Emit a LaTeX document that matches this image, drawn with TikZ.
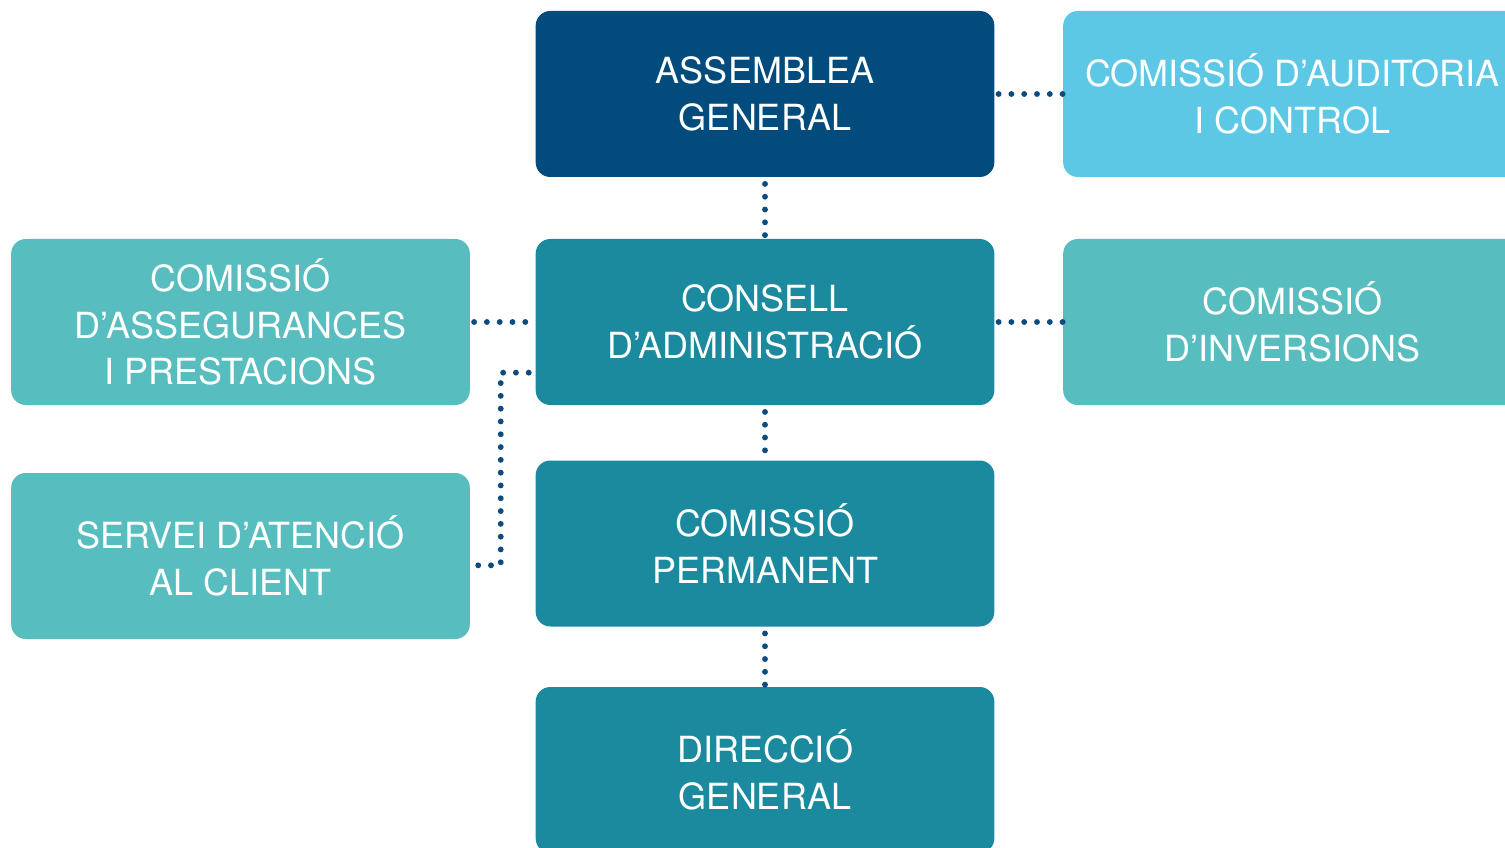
\documentclass[tikz,border=0pt]{standalone}
\usepackage{fontspec}
\setmainfont{TeX Gyre Heros}
\begin{document}
\begin{tikzpicture}[x=0.75pt,y=-0.75pt,
  box/.style={rounded corners=11pt, minimum width=344pt, minimum height=124.5pt,
    inner sep=0pt, align=center, text=white, font=\fontsize{27}{35}\selectfont},
  dots/.style={draw=dotblue, line width=4.4pt, line cap=round, dash pattern=on 0pt off 9.6pt}]
\definecolor{darkblue}{HTML}{014C7D}
\definecolor{skyblue}{HTML}{5CC8E6}
\definecolor{teal}{HTML}{1B8A9F}
\definecolor{aqua}{HTML}{57BDBF}
\definecolor{dotblue}{HTML}{0B4B7E}
\path[use as bounding box, clip] (0,0) rectangle (1505,848);

\node[box, fill=darkblue] (asm)  at (765,94)    {ASSEMBLEA\\GENERAL};
\node[box, fill=skyblue]  (aud)  at (1292.5,94) {COMISSIÓ D’AUDITORIA\\I CONTROL};
\node[box, fill=teal]     (cons) at (765,322)   {CONSELL\\D’ADMINISTRACIÓ};
\node[box, fill=aqua]     (ass)  at (240.5,322) {COMISSIÓ\\D’ASSEGURANCES\\I PRESTACIONS};
\node[box, fill=aqua]     (inv)  at (1292.5,322){COMISSIÓ\\D’INVERSIONS};
\node[box, fill=aqua]     (serv) at (240.5,556) {SERVEI D’ATENCIÓ\\AL CLIENT};
\node[box, fill=teal]     (perm) at (765,543.5) {COMISSIÓ\\PERMANENT};
\node[box, fill=teal]     (dir)  at (765,770)   {DIRECCIÓ\\GENERAL};

% dotted links
\draw[dots] ([xshift=3pt]asm.east) -- (aud.west);
\draw[dots] ([yshift=-5pt]asm.south) -- (cons.north);
\draw[dots] ([xshift=3pt]ass.east) -- (cons.west);
\draw[dots] ([xshift=3pt]cons.east) -- (inv.west);
\draw[dots] ([yshift=-5pt]cons.south) -- (perm.north);
\draw[dots] ([yshift=-5pt]perm.south) -- (dir.north);
\draw[dots] ([xshift=-5pt,yshift=-38pt]cons.west) -- ++(-28,0) |- ([xshift=5pt,yshift=-7pt]serv.east);
\end{tikzpicture}
\end{document}
